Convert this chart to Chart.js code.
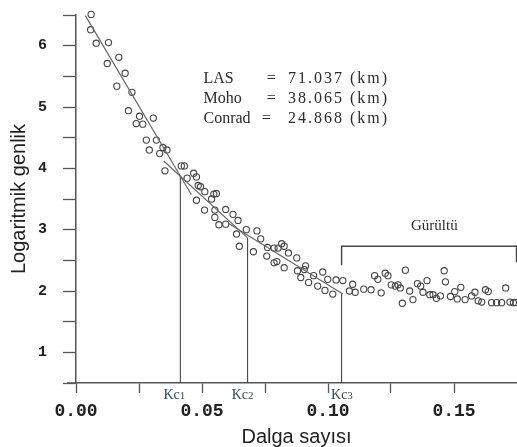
<!DOCTYPE html>
<html>
<head>
<meta charset="utf-8">
<title>Logaritmik genlik - Dalga sayısı</title>
<script src="https://cdn.jsdelivr.net/npm/chart.js@4.4.1/dist/chart.umd.min.js"></script>
<style>
  html, body { margin: 0; padding: 0; background: #fff; }
  #wrap { position: relative; width: 517px; height: 447px; }
</style>
</head>
<body>
<div id="wrap"><canvas id="spectrum"></canvas></div>
<script>
// Power spectrum (log amplitude vs wavenumber) with three linear fits
// and the Kc cut-off wavenumbers.

// Observed spectrum points (wavenumber, log amplitude)
const waveNum = [
  0.0058, 0.0060, 0.0080, 0.0124, 0.0129, 0.0162, 0.0170, 0.0195, 0.0208, 0.0222,
  0.0239, 0.0252, 0.0265, 0.0279, 0.0291, 0.0307, 0.0319, 0.0332, 0.0345, 0.0353,
  0.0361, 0.0418, 0.0430, 0.0441, 0.0467, 0.0478, 0.0478, 0.0485, 0.0494, 0.0510,
  0.0511, 0.0538, 0.0547, 0.0551, 0.0551, 0.0557, 0.0567, 0.0594, 0.0594, 0.0623,
  0.0637, 0.0643, 0.0648, 0.0676, 0.0704, 0.0718, 0.0733, 0.0757, 0.0760, 0.0786,
  0.0786, 0.0797, 0.0802, 0.0816, 0.0826, 0.0826, 0.0843, 0.0876, 0.0879, 0.0892,
  0.0906, 0.0911, 0.0923, 0.0943, 0.0959, 0.0979, 0.0988, 0.0999, 0.1019, 0.1032,
  0.1059, 0.1085, 0.1098, 0.1108, 0.1142, 0.1171, 0.1185, 0.1198, 0.1211, 0.1227,
  0.1238, 0.1251, 0.1267, 0.1278, 0.1287, 0.1295, 0.1307, 0.1324, 0.1337, 0.1355,
  0.1368, 0.1377, 0.1393, 0.1404, 0.1417, 0.1430, 0.1446, 0.1461, 0.1466, 0.1486,
  0.1503, 0.1513, 0.1527, 0.1544, 0.1570, 0.1583, 0.1596, 0.1610, 0.1625, 0.1636,
  0.1649, 0.1669, 0.1689, 0.1705, 0.1722, 0.1736, 0.1746
];
const logAmp = [
  6.26, 6.51, 6.04, 5.71, 6.05, 5.34, 5.81, 5.55, 4.94, 5.24,
  4.73, 4.85, 4.72, 4.46, 4.30, 4.82, 4.46, 4.24, 4.34, 3.96,
  4.30, 4.04, 4.04, 3.84, 3.92, 3.86, 3.48, 3.72, 3.70, 3.32,
  3.62, 3.50, 3.58, 3.32, 3.20, 3.59, 3.08, 3.33, 3.09, 3.25,
  2.93, 3.15, 2.73, 3.00, 2.64, 2.98, 2.85, 2.57, 2.71, 2.70,
  2.46, 2.48, 2.70, 2.77, 2.73, 2.38, 2.62, 2.54, 2.33, 2.22,
  2.35, 2.41, 2.14, 2.25, 2.08, 2.31, 2.01, 2.19, 1.95, 2.18,
  2.17, 2.00, 2.11, 1.98, 2.03, 2.02, 2.25, 2.19, 1.97, 2.29,
  2.25, 2.10, 2.08, 2.10, 2.05, 1.80, 2.34, 2.00, 1.86, 2.12,
  2.08, 1.98, 2.17, 1.94, 1.94, 1.88, 1.92, 2.33, 2.15, 1.91,
  1.99, 1.87, 2.06, 1.86, 1.92, 1.98, 1.84, 1.82, 2.02, 1.99,
  1.81, 1.81, 1.81, 2.05, 1.82, 1.81, 1.81
];

// Fitted segments: [start, end]
const fitX = [[0.0037, 0.0458], [0.0348, 0.0680], [0.0606, 0.1059]];
const fitY = [[6.49, 3.57], [4.12, 2.87], [3.10, 1.95]];

// Cut-off wavenumbers and where each marker meets its fit line
const kcNames = ['Kc', 'Kc', 'Kc'];
const kcIndex = ['1', '2', '3'];
const kcValues = [0.0414, 0.0681, 0.1054];
const kcTops = [3.87, 2.87, 1.96];

// Noise bracket
const noiseX = [0.1054, 0.1054, 0.1748, 0.1748];
const noiseY = [2.42, 2.73, 2.73, 2.47];

// Depth results
const resultNames = ['LAS', 'Moho', 'Conrad'];
const resultDepths = ['71.037', '38.065', '24.868'];

const X_MIN = 0, X_MAX = 0.175;
const Y_MIN = 0.5, Y_MAX = 6.5;

const SERIF = '"Liberation Serif", "Times New Roman", serif';
const MONO = '"Liberation Mono", "Courier New", monospace';

function pairs(xs, ys) {
  return xs.map((v, i) => ({ x: v, y: ys[i] }));
}

const lineStyle = {
  type: 'line', showLine: true, pointRadius: 0, fill: false, tension: 0, order: 1
};

const datasets = [
  {
    label: 'Spektrum',
    data: pairs(waveNum, logAmp),
    pointStyle: 'circle',
    pointRadius: 3.1,
    pointBorderWidth: 1.1,
    pointBackgroundColor: 'rgba(255,255,255,0)',
    pointBorderColor: '#444',
    showLine: false,
    clip: false,
    order: 2
  }
];
fitX.forEach((xs, i) => {
  datasets.push(Object.assign({}, lineStyle, {
    label: 'Fit ' + (i + 1), data: pairs(xs, fitY[i]), borderColor: '#666', borderWidth: 1.2
  }));
});
kcValues.forEach((k, i) => {
  datasets.push(Object.assign({}, lineStyle, {
    label: kcNames[i] + kcIndex[i], data: pairs([k, k], [Y_MIN, kcTops[i]]), borderColor: '#333', borderWidth: 1
  }));
});
datasets.push(Object.assign({}, lineStyle, {
  label: 'Gürültü', data: pairs(noiseX, noiseY), borderColor: '#444', borderWidth: 1.4
}));

const annotations = {
  id: 'annotations',
  afterDraw(chart) {
    const { ctx } = chart;
    const x = chart.scales.x, y = chart.scales.y;
    ctx.save();

    // extend x axis line a little to the left of the y axis
    ctx.strokeStyle = '#555';
    ctx.lineWidth = 1.5;
    ctx.beginPath();
    ctx.moveTo(x.left - 9, y.bottom);
    ctx.lineTo(x.left, y.bottom);
    ctx.stroke();

    // depth results block
    const rows = [5.46, 5.14, 4.81];
    const eqX = [0.0757, 0.0757, 0.0737];
    ctx.fillStyle = '#2b2b2b';
    ctx.textBaseline = 'middle';
    ctx.textAlign = 'left';
    ctx.font = '16px ' + SERIF;
    resultNames.forEach((name, i) => {
      const py = y.getPixelForValue(rows[i]);
      ctx.letterSpacing = '0px';
      ctx.fillText(name, x.getPixelForValue(0.0506), py);
      ctx.fillText('=', x.getPixelForValue(eqX[i]), py);
      ctx.letterSpacing = '2px';
      ctx.fillText(resultDepths[i] + ' (km)', x.getPixelForValue(0.0841), py);
    });
    ctx.letterSpacing = '0px';

    // noise label
    ctx.textAlign = 'center';
    ctx.font = '15px ' + SERIF;
    ctx.fillText('Gürültü', x.getPixelForValue(0.1422), y.getPixelForValue(3.06));

    // Kc labels under the axis
    const kcLabelX = [0.0347, 0.0618, 0.1012];
    ctx.textAlign = 'left';
    ctx.fillStyle = '#3b4656';
    kcValues.forEach((k, i) => {
      const px = x.getPixelForValue(kcLabelX[i]);
      const py = x.top + 12;
      ctx.font = '14px ' + SERIF;
      ctx.fillText(kcNames[i], px, py);
      const w = ctx.measureText(kcNames[i]).width;
      ctx.font = '11px ' + SERIF;
      ctx.fillText(kcIndex[i], px + w, py + 1);
    });
    ctx.restore();
  }
};

new Chart(document.getElementById('spectrum'), {
  type: 'scatter',
  data: { datasets },
  options: {
    responsive: true,
    maintainAspectRatio: false,
    animation: false,
    layout: { autoPadding: false, padding: { top: 15, right: 0, left: 0, bottom: 0 } },
    plugins: {
      legend: { display: false },
      tooltip: { enabled: false }
    },
    scales: {
      x: {
        type: 'linear',
        min: X_MIN,
        max: X_MAX,
        // ticks every 0.025 up to 0.15 only; nothing at the clipped right edge
        afterBuildTicks: (s) => {
          s.ticks = s.ticks.filter(t =>
            t.value <= 0.1501 &&
            Math.abs(t.value / 0.025 - Math.round(t.value / 0.025)) < 1e-6);
        },
        afterFit: (s) => { s.height = 64; },
        ticks: {
          stepSize: 0.025,
          autoSkip: false,
          maxRotation: 0,
          padding: 8,
          color: '#222',
          font: { family: MONO, size: 18, weight: 'bold' },
          callback: (v) => {
            const r = Math.round(v * 1000);
            return r % 50 === 0 ? (v).toFixed(2) : '';
          }
        },
        grid: { drawOnChartArea: false, drawTicks: true, tickLength: 10, color: '#555', tickWidth: 1.3 },
        border: { display: true, color: '#555', width: 1.5 },
        title: {
          display: true,
          text: 'Dalga sayısı',
          color: '#222',
          font: { family: '"Liberation Sans", Arial, sans-serif', size: 20, lineHeight: 1 },
          padding: { top: 0, bottom: 0 }
        }
      },
      y: {
        type: 'linear',
        min: Y_MIN,
        max: Y_MAX,
        afterFit: (s) => { s.width = 76; s.paddingTop = 0; s.paddingBottom = 0; },
        ticks: {
          stepSize: 0.5,
          autoSkip: false,
          padding: 16,
          color: '#222',
          font: { family: MONO, size: 15, weight: 'bold' },
          callback: (v) => Number.isInteger(v) ? String(v) : ''
        },
        grid: { drawOnChartArea: false, drawTicks: true, tickLength: 13, color: '#555', tickWidth: 1.3 },
        border: { display: true, color: '#555', width: 1.5 },
        title: {
          display: true,
          text: 'Logaritmik genlik',
          color: '#222',
          font: { family: '"Liberation Sans", Arial, sans-serif', size: 20, lineHeight: 1 },
          padding: { top: 9, bottom: 0 }
        }
      }
    }
  },
  plugins: [annotations]
});
</script>
</body>
</html>
